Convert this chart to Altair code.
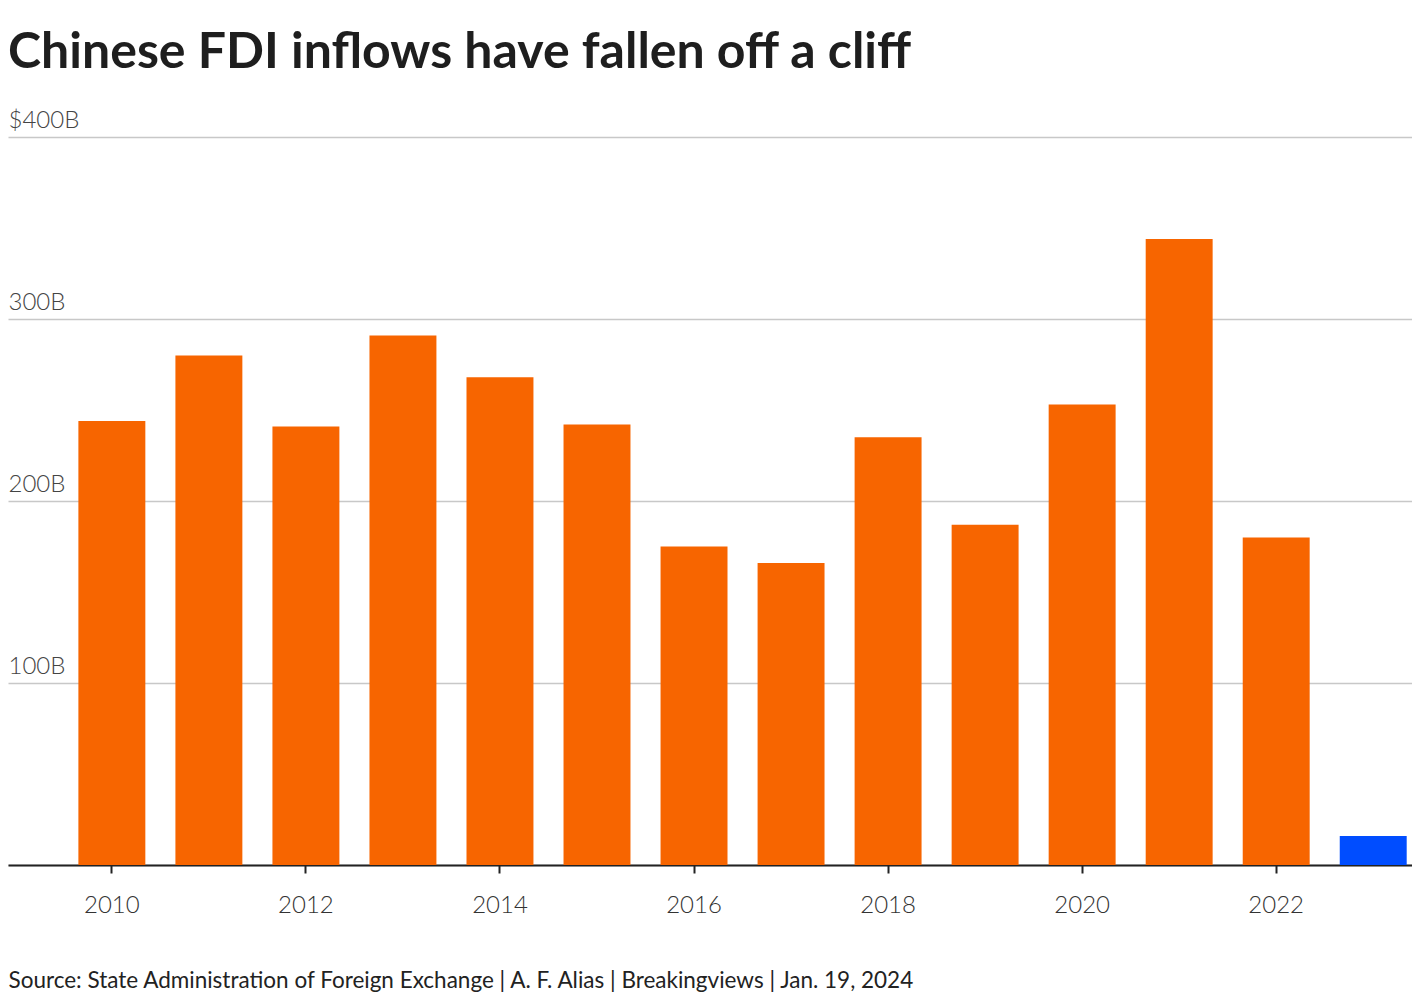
import altair as alt
import pandas as pd

years = [str(y) for y in range(2010, 2024)]
values = [244, 280, 241, 291, 268, 242, 175, 166, 235, 187, 253, 344, 180, 16]
highlight = ["no"] * 13 + ["yes"]
even_years = [str(y) for y in range(2010, 2023, 2)]
y_ticks = [0, 100, 200, 300, 400]

df = pd.DataFrame({"year": years, "value": values, "hl": highlight})

chart = alt.Chart(df).mark_bar().encode(
    x=alt.X(
        "year:O",
        scale=alt.Scale(paddingInner=0.31, paddingOuter=0.39, align=0.93),
        axis=alt.Axis(
            values=even_years,
            labelAngle=0,
            labelFont="Lato",
            labelFontWeight=300,
            labelFontSize=24,
            labelColor="#333",
            labelPadding=20,
            ticks=True,
            tickSize=8,
            tickWidth=2,
            tickColor="#222",
            domainColor="#222",
            domainWidth=2,
            grid=False,
            title="Source: State Administration of Foreign Exchange | A. F. Alias | Breakingviews | Jan. 19, 2024",
            titleFont="Lato",
            titleFontSize=22.5,
            titleFontWeight="normal",
            titleColor="#222",
            titleAnchor="start",
            titleAlign="left",
            titlePadding=52,
        ),
    ),
    y=alt.Y(
        "value:Q",
        scale=alt.Scale(domain=[0, 400], nice=False),
        axis=alt.Axis(
            values=y_ticks,
            labelExpr="datum.value == 0 ? '' : (datum.value == 400 ? '$400B' : datum.value + 'B')",
            labelAlign="left",
            labelBaseline="alphabetic",
            labelPadding=0,
            labelOffset=-10,
            labelFont="Lato",
            labelFontWeight=300,
            labelFontSize=24,
            labelColor="#444",
            ticks=False,
            tickSize=0,
            domain=False,
            grid=True,
            gridColor="#c8c8c8",
            gridWidth=1.5,
            title=None,
        ),
    ),
    color=alt.Color(
        "hl:N",
        scale=alt.Scale(domain=["no", "yes"], range=["#f76500", "#004dff"]),
        legend=None,
    ),
).properties(
    width=1404,
    height=728,
    background="white",
    title=alt.TitleParams(
        "Chinese FDI inflows have fallen off a cliff",
        anchor="start",
        font="Lato",
        fontSize=50,
        fontWeight="bold",
        color="#1e1e1e",
        offset=30,
    ),
    padding={"left": 0, "right": 0, "top": 20, "bottom": 0},
).configure_view(stroke="transparent", strokeWidth=0)

chart.save("out.html", embed_options={"renderer": "svg", "actions": False})
